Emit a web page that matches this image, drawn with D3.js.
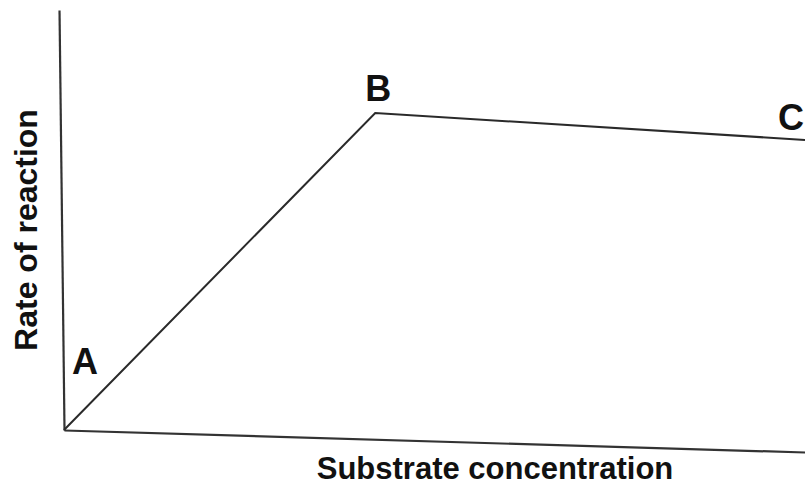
<!DOCTYPE html>
<html>
<head>
<meta charset="utf-8">
<script src="https://cdn.jsdelivr.net/npm/d3@7"></script>
<style>
  body { margin: 0; background: #fff; }
  svg { display: block; }
  text { font-family: "Liberation Sans", Arial, sans-serif; font-weight: bold; fill: #111; }
</style>
</head>
<body>
<svg id="chart"></svg>
<script>
// points of the curve (substrate concentration vs rate, arbitrary units)
const pointLabels = ['A', 'B', 'C'];
const substrate = [0, 42, 100];
const rate = [0, 100, 91.5];

const xTitle = 'Substrate concentration';
const yTitle = 'Rate of reaction';

const width = 805, height = 487;
const margin = {top: 10, right: 0, bottom: 57, left: 64};

const svg = d3.select('#chart')
    .attr('width', width)
    .attr('height', height);

const xscale = d3.scaleLinear()
    .domain([0, 100])
    .range([margin.left, width - margin.right]);

const yscale = d3.scaleLinear()
    .domain([0, 100])
    .range([430, 113]);

// axes, no ticks; the scanned original is slightly skewed
const xaxis = d3.axisBottom(xscale).ticks(0).tickSize(0).tickSizeOuter(0);
const yaxis = d3.axisLeft(d3.scaleLinear().domain([0, 1]).range([430, margin.top])).ticks(0).tickSize(0).tickSizeOuter(0);

svg.append('g')
    .attr('transform', `translate(0, 430) rotate(1.7, ${margin.left}, 0)`)
    .call(xaxis)
    .call(g => g.select('.domain').attr('stroke', '#333').attr('stroke-width', 2.2));

svg.append('g')
    .attr('transform', `translate(${margin.left}, 0) rotate(-0.68, 0, 430)`)
    .call(yaxis)
    .call(g => g.select('.domain').attr('stroke', '#333').attr('stroke-width', 2.2));

const pts = substrate.map((d, i) => ({label: pointLabels[i], x: d, y: rate[i]}));

const line = d3.line()
    .x(d => xscale(d.x))
    .y(d => yscale(d.y));

svg.append('path')
    .datum(pts)
    .attr('d', line)
    .attr('fill', 'none')
    .attr('stroke', '#2a2a2a')
    .attr('stroke-width', 2)
    .attr('stroke-linejoin', 'miter');

// point labels
const labelOffset = {A: [8, -56], B: [-10, -12], C: [-27, -10]};
svg.selectAll('text.pt')
    .data(pts)
    .join('text')
    .attr('class', 'pt')
    .attr('x', d => xscale(d.x) + labelOffset[d.label][0])
    .attr('y', d => yscale(d.y) + labelOffset[d.label][1])
    .attr('font-size', '36px')
    .text(d => d.label);

svg.append('text')
    .attr('x', 495)
    .attr('y', 479)
    .attr('text-anchor', 'middle')
    .attr('font-size', '31px')
    .text(xTitle);

svg.append('text')
    .attr('transform', 'translate(37, 230) rotate(-90)')
    .attr('text-anchor', 'middle')
    .attr('font-size', '32px')
    .text(yTitle);
</script>
</body>
</html>
